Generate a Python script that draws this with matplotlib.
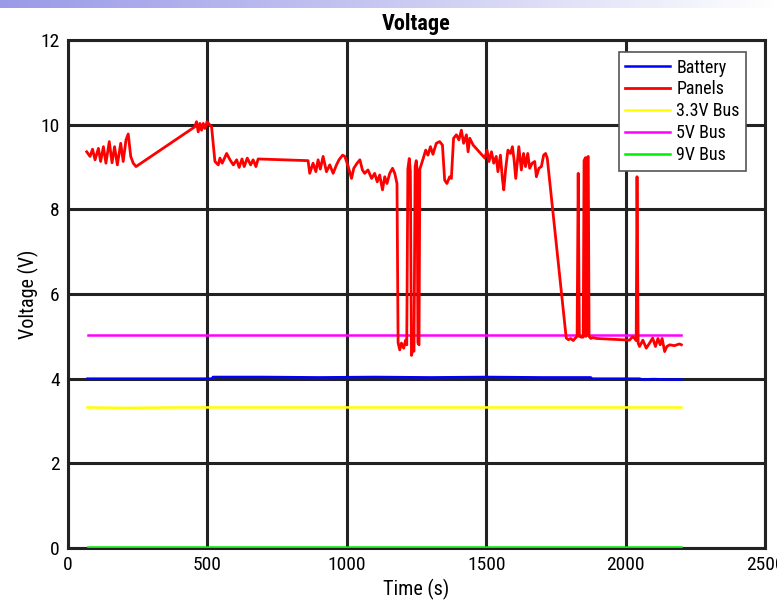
import numpy as np
import matplotlib
matplotlib.use("Agg")
import matplotlib.pyplot as plt
from matplotlib import font_manager

# the reference uses a narrow Arial-like face; take a condensed one if present
names = {f.name for f in font_manager.fontManager.ttflist}
narrow = [n for n in ['Liberation Sans Narrow', 'Roboto Condensed', 'DejaVu Sans Condensed']
          if n in names]
if narrow:
    plt.rcParams['font.family'] = [narrow[0], 'Liberation Sans', 'DejaVu Sans']
    scale = 1.0
else:
    plt.rcParams['font.family'] = ['Liberation Sans', 'DejaVu Sans']
    scale = 0.85

# panel voltage trace
panel_t = [67, 79, 88, 97, 109, 117, 127, 136, 148, 158, 167, 177, 189, 198, 208, 216,
           225, 234, 244, 455, 461, 467, 473, 479, 485, 491, 499, 509, 515, 527, 539,
           545, 553, 569, 581, 593, 605, 614, 624, 632, 643, 655, 664, 674, 682, 861,
           867, 879, 889, 897, 905, 915, 927, 939, 951, 963, 972, 985, 993, 1005, 1017,
           1025, 1037, 1047, 1056, 1064, 1076, 1089, 1100, 1109, 1118, 1128, 1136, 1144,
           1154, 1164, 1172, 1180, 1184, 1190, 1196, 1204, 1211, 1215, 1219, 1224, 1228,
           1232, 1237, 1241, 1245, 1249, 1252, 1255, 1259, 1262, 1274, 1283, 1291, 1300,
           1309, 1321, 1333, 1343, 1351, 1359, 1369, 1375, 1383, 1393, 1402, 1411, 1419,
           1429, 1435, 1441, 1453, 1495, 1503, 1510, 1519, 1527, 1536, 1542, 1551, 1558,
           1563, 1570, 1578, 1587, 1594, 1600, 1606, 1610, 1617, 1626, 1634, 1641, 1649,
           1656, 1665, 1674, 1680, 1689, 1698, 1706, 1713, 1719, 1787, 1795, 1803, 1812,
           1820, 1826, 1830, 1834, 1842, 1848, 1851, 1856, 1858, 1861, 1866, 1869, 1875,
           1883, 1895, 2014, 2025, 2033, 2038, 2041, 2045, 2050, 2062, 2074, 2086, 2097,
           2107, 2116, 2124, 2131, 2140, 2148, 2158, 2175, 2193, 2200]
panel_v = [9.36, 9.25, 9.42, 9.17, 9.44, 9.13, 9.48, 9.09, 9.60, 9.10, 9.48, 9.05, 9.56,
           9.13, 9.64, 9.78, 9.25, 9.09, 9.01, 9.95, 10.07, 9.83, 10.03, 9.87, 10.03, 9.91,
           10.07, 9.99, 9.95, 9.13, 9.05, 9.21, 9.09, 9.32, 9.17, 9.05, 9.17, 8.99, 9.19,
           9.01, 9.21, 9.05, 9.17, 9.01, 9.19, 9.15, 8.85, 9.09, 8.89, 9.17, 8.95, 9.25,
           8.89, 9.05, 8.85, 9.05, 9.17, 9.28, 9.25, 9.01, 8.73, 8.97, 9.09, 9.17, 8.93,
           8.85, 8.93, 8.73, 8.85, 8.65, 8.81, 8.46, 8.77, 8.61, 8.85, 8.97, 8.85, 8.61,
           4.85, 4.68, 4.84, 4.72, 4.91, 4.80, 8.95, 9.20, 8.90, 4.55, 4.70, 4.65, 9.00,
           9.15, 8.95, 4.85, 4.80, 8.95, 9.20, 9.40, 9.28, 9.48, 9.30, 9.56, 9.60, 9.52,
           8.69, 8.61, 8.77, 8.73, 9.68, 9.76, 9.64, 9.87, 9.56, 9.76, 9.36, 9.68, 9.52,
           9.21, 9.40, 9.13, 9.36, 9.09, 9.25, 8.89, 9.28, 8.73, 8.46, 8.97, 9.40, 9.32,
           9.48, 9.17, 8.73, 9.01, 9.48, 8.93, 9.32, 9.01, 9.32, 8.97, 9.09, 9.13, 8.77,
           8.97, 9.01, 9.28, 9.32, 9.21, 4.96, 4.92, 4.95, 4.90, 4.96, 5.00, 8.85, 5.00,
           4.98, 4.98, 9.15, 9.22, 5.00, 9.20, 9.25, 5.00, 4.95, 4.97, 4.95, 4.91, 4.99,
           4.95, 4.90, 8.77, 4.84, 4.76, 4.91, 4.72, 4.84, 4.96, 4.76, 4.95, 4.80, 4.95,
           4.64, 4.76, 4.80, 4.78, 4.82, 4.80]

# bus and battery traces
bus_t = [70, 200, 400, 516, 520, 700, 900, 1100, 1300, 1500, 1700, 1875, 1880, 2050, 2060,
         2100, 2150, 2200]
battery_v = [4.00, 4.00, 4.00, 4.00, 4.04, 4.04, 4.03, 4.04, 4.03, 4.04, 4.03, 4.03, 4.00,
             4.00, 3.98, 3.99, 3.98, 3.98]
bus33_v = [3.32, 3.31, 3.32, 3.32, 3.32, 3.32, 3.32, 3.32, 3.32, 3.32, 3.32, 3.32, 3.32,
           3.32, 3.32, 3.32, 3.32, 3.32]
bus5_v = [5.03, 5.03, 5.03, 5.03, 5.03, 5.03, 5.03, 5.03, 5.03, 5.03, 5.03, 5.03, 5.03,
          5.03, 5.03, 5.03, 5.03, 5.03]
bus9_v = [0.02, 0.02, 0.02, 0.02, 0.02, 0.02, 0.02, 0.02, 0.02, 0.02, 0.02, 0.02, 0.02,
          0.02, 0.02, 0.02, 0.02, 0.02]

fig = plt.figure(figsize=(7.77, 6.01), dpi=100)

# faint slide banner at the very top
band = fig.add_axes([0, 1 - 8 / 601, 1, 8 / 601])
grad = np.linspace(0, 1, 256)[None, :]
band.imshow(grad, aspect='auto', cmap=matplotlib.colors.LinearSegmentedColormap.from_list(
    'b', ['#9a9ae8', '#c8c8f2', '#ffffff']), extent=[0, 1, 0, 1])
band.axis('off')

ax = fig.add_axes([68 / 777, 53 / 601, 697 / 777, 508 / 601])
ax.plot(bus_t, battery_v, color='#0000ff', lw=1.8, label='Battery', zorder=3)
ax.plot(panel_t, panel_v, color='#ff0000', lw=2.0, label='Panels', zorder=4)
ax.plot(bus_t, bus33_v, color='#ffff00', lw=1.8, label='3.3V Bus', zorder=3)
ax.plot(bus_t, bus5_v, color='#ff00ff', lw=1.8, label='5V Bus', zorder=3)
ax.plot(bus_t, bus9_v, color='#00ee00', lw=1.8, label='9V Bus', zorder=3)

ax.set_xlim(0, 2500)
ax.set_ylim(0, 12)
ax.set_xticks(range(0, 2501, 500))
ax.set_yticks(range(0, 13, 2))
ax.grid(True, color='#222222', lw=2.2)
ax.set_axisbelow(True)
for s in ax.spines.values():
    s.set_color('#222222')
    s.set_linewidth(2.2)
ax.tick_params(direction='in', length=0, labelsize=14 * scale, pad=6)

ax.set_title('Voltage', fontsize=16 * scale, fontweight='bold', pad=7)
ax.set_xlabel('Time (s)', fontsize=14.5 * scale, labelpad=3)
ax.set_ylabel('Voltage (V)', fontsize=14.5 * scale, labelpad=1)

leg = ax.legend(loc='upper right', bbox_to_anchor=(0.973, 0.976), borderaxespad=0,
                fontsize=13 * scale, handlelength=2.5, labelspacing=0.22,
                handletextpad=0.35, borderpad=0.35, fancybox=False, framealpha=1,
                edgecolor='#555555')
leg.get_frame().set_linewidth(1.2)

plt.savefig('out.png', dpi=100)
